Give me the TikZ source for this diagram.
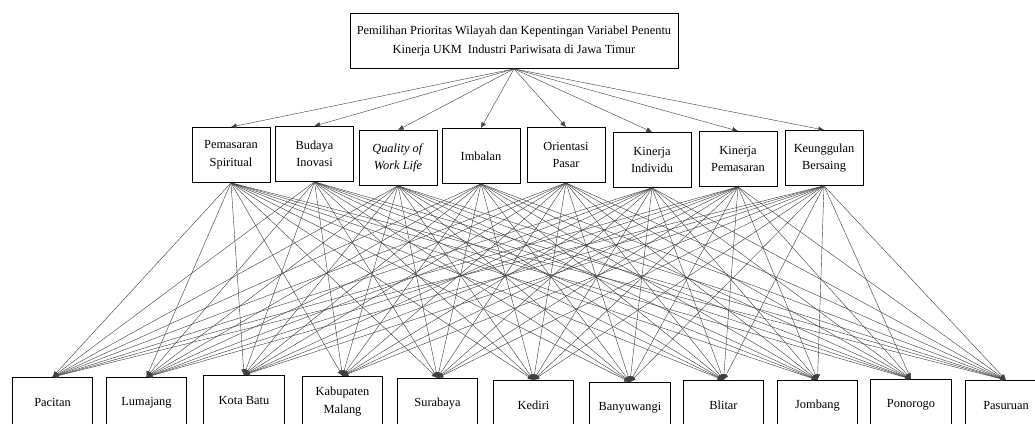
\documentclass[tikz,border=0pt]{standalone}
\usepackage{fontspec}
\setmainfont{Liberation Serif}
\usepackage{tikz}
\usetikzlibrary{arrows.meta}

\tikzset{
    boxtext/.style={font=\fontsize{8.8}{12.5}\selectfont, align=center, anchor=north, inner sep=1pt},
    goalbox/.style={boxtext, draw, line width=0.6pt, minimum width=8.2cm, minimum height=1.375cm, font=\fontsize{8.8}{13.5}\selectfont},
    critbox/.style={boxtext, draw, line width=0.6pt, minimum width=1.95cm, minimum height=1.375cm},
    altbox/.style={boxtext, draw, line width=0.6pt, minimum width=2.02cm, minimum height=1.25cm},
    link/.style={line width=0.3pt, draw=black!75, -{Latex[length=4pt,width=3.6pt]}}
}

\begin{document}
\begin{tikzpicture}[x=0.025cm,y=-0.025cm]
        \useasboundingbox (0,0) rectangle (1035,423);
        % goal
        \node[goalbox] (goal) at (514,13) {Pemilihan Prioritas Wilayah dan Kepentingan Variabel Penentu\\Kinerja UKM\ \ Industri Pariwisata di Jawa Timur};
        % criteria
        \node[critbox] (c1) at (231,127) {Pemasaran\\Spiritual};
        \node[critbox] (c2) at (314.5,126) {Budaya\\Inovasi};
        \node[critbox] (c3) at (398,130) {\textit{Quality of}\\\textit{Work Life}};
        \node[critbox] (c4) at (481,128) {Imbalan};
        \node[critbox] (c5) at (566,127) {Orientasi\\Pasar};
        \node[critbox] (c6) at (652,132) {Kinerja\\Individu};
        \node[critbox] (c7) at (738,131) {Kinerja\\Pemasaran};
        \node[critbox] (c8) at (824,130) {Keunggulan\\Bersaing};
        % alternatives
        \node[altbox] (a1) at (52.5,377) {Pacitan};
        \node[altbox] (a2) at (146.5,377) {Lumajang};
        \node[altbox] (a3) at (244,375) {Kota Batu};
        \node[altbox] (a4) at (342.5,376) {Kabupaten\\Malang};
        \node[altbox] (a5) at (437.5,378) {Surabaya};
        \node[altbox] (a6) at (533.5,380) {Kediri};
        \node[altbox] (a7) at (630,382) {Banyuwangi};
        \node[altbox] (a8) at (723.5,380) {Blitar};
        \node[altbox] (a9) at (817.5,380) {Jombang};
        \node[altbox] (a10) at (911,379) {Ponorogo};
        \node[altbox] (a11) at (1006,380) {Pasuruan};
        % links
        \foreach \c in {1,...,8} {
            \draw[link] (goal.south) -- (c\c.north);
            \foreach \a in {1,...,11}
                \draw[link] (c\c.south) -- (a\a.north);
        }
        \end{tikzpicture}
\end{document}
